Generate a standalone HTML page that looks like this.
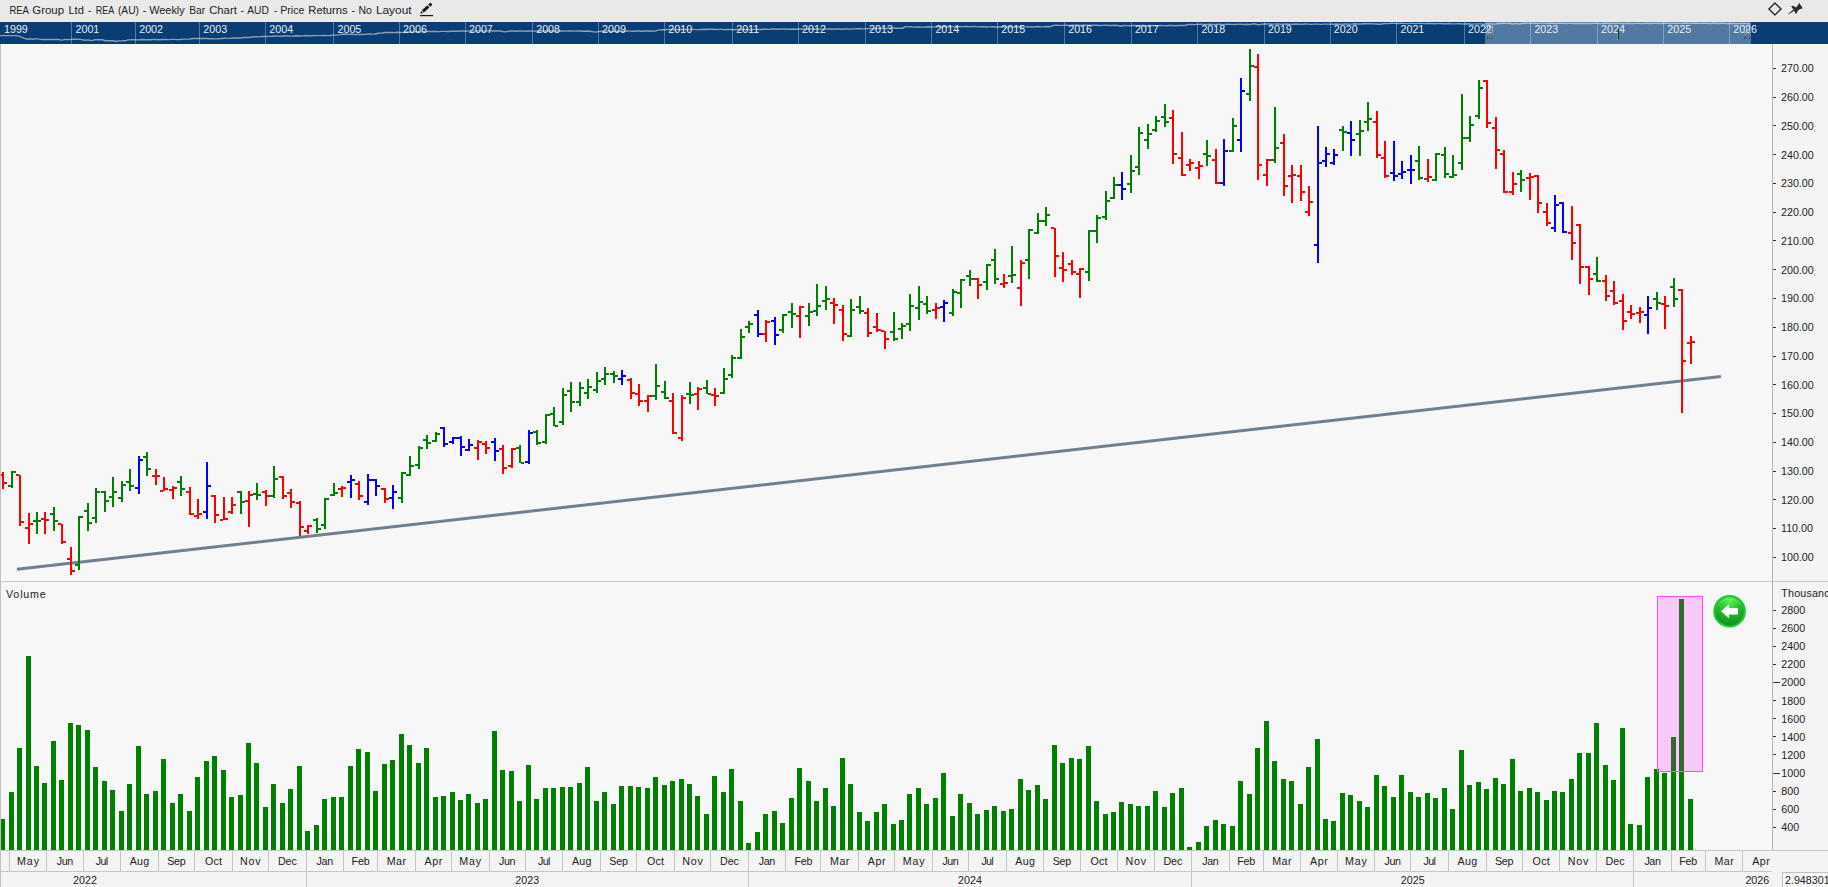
<!DOCTYPE html>
<html><head><meta charset="utf-8"><title>REA Group Ltd - Weekly Bar Chart</title>
<style>html,body{margin:0;padding:0;background:#f7f7f7;overflow:hidden}body{width:1828px;height:887px;position:relative;font-family:"Liberation Sans",sans-serif}</style></head>
<body>
<svg width="1828" height="887" viewBox="0 0 1828 887" style="position:absolute;left:0;top:0;display:block" font-family="'Liberation Sans', sans-serif" font-size="10.7px" fill="#222">
<rect x="0" y="0" width="1828" height="887" fill="#f7f7f7"/>
<rect x="0" y="0" width="1828" height="22" fill="#e9e9e9"/>
<rect x="1773" y="44" width="55" height="843" fill="#f4f4f4"/>
<rect x="0" y="851" width="1828" height="36" fill="#f4f4f4"/>
<rect x="0" y="22" width="1828" height="22" fill="#0a3d73"/>
<rect x="1485" y="22" width="266" height="22" fill="#5279a1"/>
<g shape-rendering="crispEdges" fill="#ffffff" fill-opacity="0.3">
<rect x="71" y="22" width="1" height="22"/>
<rect x="135" y="22" width="1" height="22"/>
<rect x="199" y="22" width="1" height="22"/>
<rect x="265" y="22" width="1" height="22"/>
<rect x="333" y="22" width="1" height="22"/>
<rect x="399" y="22" width="1" height="22"/>
<rect x="465" y="22" width="1" height="22"/>
<rect x="532" y="22" width="1" height="22"/>
<rect x="598" y="22" width="1" height="22"/>
<rect x="664" y="22" width="1" height="22"/>
<rect x="732" y="22" width="1" height="22"/>
<rect x="798" y="22" width="1" height="22"/>
<rect x="865" y="22" width="1" height="22"/>
<rect x="931" y="22" width="1" height="22"/>
<rect x="997" y="22" width="1" height="22"/>
<rect x="1064" y="22" width="1" height="22"/>
<rect x="1131" y="22" width="1" height="22"/>
<rect x="1197" y="22" width="1" height="22"/>
<rect x="1264" y="22" width="1" height="22"/>
<rect x="1330" y="22" width="1" height="22"/>
<rect x="1396" y="22" width="1" height="22"/>
<rect x="1464" y="22" width="1" height="22"/>
<rect x="1530" y="22" width="1" height="22"/>
<rect x="1597" y="22" width="1" height="22"/>
<rect x="1663" y="22" width="1" height="22"/>
<rect x="1729" y="22" width="1" height="22"/>
</g>
<polyline fill="none" stroke="#ffffff" stroke-opacity="0.5" stroke-width="1.4" points="0.0,35.6 3.4,35.6 6.8,35.6 10.2,35.6 13.6,35.6 17.0,35.6 22.0,37.3 27.0,39.3 30.0,38.7 33.0,39.2 36.0,38.6 39.0,39.1 42.0,39.5 45.2,39.5 48.4,39.5 51.6,39.5 54.8,39.5 58.0,39.5 62.0,40.1 65.0,39.4 70.0,39.6 72.0,39.2 76.0,39.3 80.0,39.4 85.0,40.3 88.0,39.9 92.0,40.6 95.0,39.7 99.0,39.75 103.0,39.8 105.0,40.8 108.0,40.8 111.0,40.8 114.0,40.8 116.0,41.4 118.0,40.9 121.5,40.85 125.0,40.8 128.0,39.9 131.5,39.75 135.0,39.6 138.0,39.9 141.0,39.5 146.0,39.8 150.0,39.8 153.0,39.56 156.0,39.47 159.0,39.71 162.0,39.43 165.0,39.39 168.0,39.65 171.0,39.39 174.0,39.4 177.0,39.67 180.0,39.5 183.3,39.13 186.7,39.16 190.0,38.96 193.3,38.52 196.7,38.41 200.0,38.5 203.0,38.44 206.0,38.35 209.0,38.72 212.0,38.64 215.0,38.9 218.1,38.77 221.2,38.55 224.4,38.23 227.5,38.37 230.6,38.29 233.8,37.9 236.9,37.96 240.0,38.0 243.1,37.53 246.2,37.39 249.4,37.45 252.5,37.04 255.6,36.77 258.8,36.87 261.9,36.55 265.0,36.5 268.2,36.37 271.4,36.36 274.5,36.03 277.7,36.11 280.9,36.27 284.1,35.99 287.3,35.88 290.5,36.12 293.6,36.0 296.8,35.74 300.0,36.0 303.0,35.92 306.0,35.56 309.0,35.73 312.0,35.74 315.0,35.42 318.0,35.63 321.0,35.66 324.0,35.36 327.0,35.6 330.0,35.5 333.0,35.09 336.0,35.09 339.0,34.83 342.0,34.29 345.0,34.0 348.0,34.34 351.0,34.15 354.0,34.48 357.0,34.51 360.0,34.4 363.0,34.46 366.0,34.3 369.0,33.94 372.0,34.1 375.0,34.0 378.3,33.26 381.7,32.98 385.0,32.5 388.0,32.46 391.0,32.4 394.0,32.62 397.0,32.32 400.0,32.5 403.0,32.42 406.0,32.03 409.0,31.95 412.0,32.11 415.0,31.74 418.0,31.71 421.0,31.88 424.0,31.54 427.0,31.53 430.0,31.5 433.0,31.41 436.0,31.47 439.0,31.66 442.0,31.34 445.0,31.38 448.0,31.54 451.0,31.18 454.0,31.21 457.0,31.32 460.0,31.0 463.1,31.01 466.2,31.21 469.2,30.91 472.3,30.92 475.4,31.16 478.5,30.9 481.5,30.83 484.6,31.1 487.7,30.9 490.8,30.75 493.8,31.04 496.9,30.9 500.0,31.0 505.0,31.9 510.0,31.0 513.1,30.95 516.2,31.22 519.2,30.99 522.3,30.89 525.4,31.18 528.5,31.01 531.5,30.84 534.6,31.12 537.7,31.03 540.8,30.8 543.8,31.07 546.9,31.05 550.0,30.79 553.1,31.02 556.2,31.08 559.2,30.8 562.3,30.98 565.4,31.12 568.5,30.83 571.5,30.95 574.6,31.16 577.7,30.89 580.8,30.93 583.8,31.2 586.9,30.97 590.0,31.2 593.0,31.71 596.0,32.1 599.0,31.51 602.0,31.2 605.1,31.16 608.2,31.05 611.4,31.33 614.5,31.21 617.6,31.0 620.7,31.25 623.8,31.25 626.9,30.97 630.1,31.16 633.2,31.27 636.3,30.98 639.4,31.06 642.5,31.27 645.6,31.01 648.8,30.96 651.9,31.23 655.0,31.0 658.5,30.16 662.0,29.8 665.2,29.79 668.3,29.54 671.5,29.44 674.7,29.7 677.8,29.59 681.0,29.35 684.2,29.57 687.3,29.64 690.5,29.34 693.7,29.42 696.8,29.64 700.0,29.6 703.0,29.31 706.0,29.57 709.0,29.32 712.0,29.28 715.0,29.57 718.0,29.34 721.0,29.35 724.0,29.65 727.0,29.42 730.0,29.44 733.0,29.73 736.0,29.49 739.0,29.51 742.0,29.76 745.0,29.47 748.0,29.48 751.0,29.69 754.0,29.37 757.0,29.36 760.0,29.54 763.0,29.2 766.0,29.2 769.0,29.37 772.0,29.03 775.0,29.07 778.0,29.25 781.0,28.94 784.0,29.02 787.0,29.22 790.0,29.2 793.0,29.04 796.1,29.25 799.1,28.97 802.2,29.05 805.2,29.29 808.3,29.02 811.3,29.06 814.3,29.32 817.4,29.07 820.4,29.06 823.5,29.33 826.5,29.09 829.6,29.03 832.6,29.3 835.7,29.07 838.7,28.96 841.7,29.23 844.8,29.01 847.8,28.85 850.9,29.11 853.9,28.91 857.0,28.72 860.0,28.8 863.3,28.9 866.7,28.62 870.0,28.66 873.3,28.8 876.7,28.56 880.0,28.3 883.3,28.33 886.6,28.45 889.9,28.17 893.1,28.02 896.4,28.24 899.7,28.25 903.0,28.3 905.0,26.8 908.0,26.88 911.0,26.81 914.1,27.12 917.1,26.94 920.1,26.84 923.1,27.13 926.1,26.94 929.2,26.8 932.2,27.08 935.2,26.87 938.2,26.71 941.2,26.98 944.3,26.77 947.3,26.6 950.3,26.87 953.3,26.67 956.4,26.51 959.4,26.79 962.4,26.63 965.4,26.47 968.4,26.78 971.5,26.64 974.5,26.51 977.5,26.83 980.5,26.72 983.5,26.59 986.6,26.93 989.6,26.84 992.6,26.7 995.6,27.04 998.6,26.94 1001.7,26.78 1004.7,27.1 1007.7,27.0 1010.7,26.81 1013.8,27.11 1016.8,26.99 1019.8,26.77 1022.8,27.04 1025.8,26.91 1028.9,26.68 1031.9,26.94 1034.9,26.81 1037.9,26.57 1040.9,26.83 1044.0,26.72 1047.0,26.48 1050.0,26.8 1053.0,25.5 1056.1,25.15 1059.2,25.42 1062.3,25.42 1065.4,25.16 1068.5,25.37 1071.6,25.47 1074.7,25.18 1077.8,25.32 1080.9,25.51 1084.0,25.24 1087.0,25.28 1090.1,25.53 1093.2,25.31 1096.3,25.25 1099.4,25.54 1102.5,25.39 1105.6,25.24 1108.7,25.54 1111.8,25.47 1114.9,25.25 1118.0,25.5 1121.0,26.3 1124.0,25.5 1127.0,25.63 1130.1,25.68 1133.2,25.42 1136.2,25.68 1139.2,25.76 1142.3,25.48 1145.3,25.69 1148.4,25.81 1151.5,25.52 1154.5,25.68 1157.5,25.82 1160.6,25.52 1163.7,25.63 1166.7,25.8 1169.8,25.49 1172.8,25.55 1175.8,25.74 1178.9,25.44 1182.0,25.45 1185.0,25.5 1188.0,24.5 1191.1,24.34 1194.2,24.6 1197.3,24.38 1200.4,24.27 1203.5,24.56 1206.6,24.42 1209.7,24.22 1212.8,24.49 1215.9,24.46 1219.0,24.2 1222.1,24.42 1225.2,24.49 1228.3,24.2 1231.4,24.34 1234.5,24.51 1237.6,24.22 1240.7,24.27 1243.8,24.51 1246.9,24.26 1250.0,24.5 1254.0,23.7 1258.0,24.7 1262.0,24.2 1265.1,24.04 1268.2,23.95 1271.3,24.25 1274.4,24.11 1277.5,23.94 1280.5,24.23 1283.6,24.19 1286.7,23.95 1289.8,24.21 1292.9,24.26 1296.0,23.98 1299.1,24.18 1302.2,24.32 1305.3,24.03 1308.4,24.14 1311.5,24.36 1314.5,24.09 1317.6,24.11 1320.7,24.38 1323.8,24.16 1326.9,24.08 1330.0,24.1 1333.1,24.2 1336.2,24.01 1339.2,24.27 1342.3,24.15 1345.4,23.9 1348.5,24.14 1351.5,24.09 1354.6,23.79 1357.7,23.99 1360.8,24.01 1363.8,23.68 1366.9,23.81 1370.0,23.6 1373.3,23.88 1376.7,24.03 1380.0,24.2 1385.0,23.5 1388.1,23.61 1391.1,23.31 1394.2,23.42 1397.3,23.61 1400.3,23.32 1403.4,23.38 1406.5,23.61 1409.5,23.35 1412.6,23.35 1415.6,23.63 1418.7,23.41 1421.8,23.36 1424.8,23.66 1427.9,23.49 1431.0,23.39 1434.0,23.71 1437.1,23.6 1440.2,23.45 1443.2,23.77 1446.3,23.73 1449.4,23.53 1452.4,23.84 1455.5,23.86 1458.5,23.63 1461.6,23.91 1464.7,23.99 1467.7,23.74 1470.8,23.98 1473.9,24.12 1476.9,23.85 1480.0,23.9 1483.2,24.18 1486.4,23.91 1489.6,23.84 1492.8,24.1 1496.0,23.9 1498.0,23.3 1501.0,23.53 1504.0,23.18 1507.0,23.33 1510.0,23.3 1513.0,24.0 1516.0,23.4 1519.0,24.0 1522.0,23.4 1525.1,23.26 1528.2,23.39 1531.3,23.1 1534.4,23.21 1537.5,23.42 1540.5,23.15 1543.6,23.17 1546.7,23.44 1549.8,23.22 1552.9,23.15 1556.0,23.45 1559.1,23.31 1562.2,23.15 1565.3,23.46 1568.4,23.4 1571.5,23.18 1574.5,23.45 1577.6,23.49 1580.7,23.23 1583.8,23.44 1586.9,23.57 1590.0,23.5 1593.0,23.33 1596.0,23.2 1600.0,23.6 1604.0,23.3 1607.2,23.24 1610.4,23.56 1613.6,23.53 1616.8,23.33 1620.0,23.4 1623.1,23.68 1626.2,23.37 1629.2,23.49 1632.3,23.66 1635.4,23.36 1638.5,23.4 1641.5,23.62 1644.6,23.34 1647.7,23.3 1650.8,23.56 1653.8,23.34 1656.9,23.22 1660.0,23.5 1663.1,23.33 1666.2,23.15 1669.2,23.43 1672.3,23.33 1675.4,23.1 1678.5,23.35 1681.5,23.34 1684.6,23.07 1687.7,23.29 1690.8,23.36 1693.8,23.07 1696.9,23.23 1700.0,23.4 1703.1,23.1 1706.2,23.22 1709.2,23.45 1712.3,23.2 1715.4,23.25 1718.5,23.53 1721.5,23.31 1724.6,23.29 1727.7,23.6 1730.8,23.44 1733.8,23.35 1736.9,23.67 1740.0,23.6 1743.3,23.42 1746.7,23.65 1750,23.9"/>
<g fill="#e9eef4">
<text x="4" y="33">1999</text>
<text x="75.5" y="33">2001</text>
<text x="139.2" y="33">2002</text>
<text x="203.3" y="33">2003</text>
<text x="269.3" y="33">2004</text>
<text x="337.5" y="33">2005</text>
<text x="403.1" y="33">2006</text>
<text x="469.0" y="33">2007</text>
<text x="536.2" y="33">2008</text>
<text x="602.1" y="33">2009</text>
<text x="668.3" y="33">2010</text>
<text x="736.2" y="33">2011</text>
<text x="802.1" y="33">2012</text>
<text x="869.1" y="33">2013</text>
<text x="935.4" y="33">2014</text>
<text x="1001.3" y="33">2015</text>
<text x="1068.2" y="33">2016</text>
<text x="1134.9" y="33">2017</text>
<text x="1201.4" y="33">2018</text>
<text x="1268.0" y="33">2019</text>
<text x="1333.8" y="33">2020</text>
<text x="1400.5" y="33">2021</text>
<text x="1468.0" y="33">2022</text>
<text x="1534.4" y="33">2023</text>
<text x="1601.1" y="33">2024</text>
<text x="1667.3" y="33">2025</text>
<text x="1733.2" y="33">2026</text>
</g>
<defs><linearGradient id="gr" x1="0" y1="0" x2="0" y2="1"><stop offset="0" stop-color="#dfe8f1" stop-opacity="0.75"/><stop offset="0.45" stop-color="#9fb2c8" stop-opacity="0.8"/><stop offset="1" stop-color="#2a3c52"/></linearGradient></defs>
<g shape-rendering="crispEdges" fill="url(#gr)"><rect x="1487" y="26" width="1" height="13"/><rect x="1489" y="26" width="1" height="13"/><rect x="1492" y="26" width="1" height="13"/><rect x="1744" y="26" width="1" height="13"/><rect x="1746" y="26" width="1" height="13"/><rect x="1749" y="26" width="1" height="13"/></g>
<g shape-rendering="crispEdges"><rect x="1618" y="29" width="1" height="10" fill="#16283f"/><rect x="1617" y="33" width="1" height="7" fill="#ffffff" fill-opacity="0.18"/></g>
<text x="9.4" y="14" textLength="19.5" lengthAdjust="spacingAndGlyphs">REA</text>
<text x="32.25" y="14" textLength="31.8" lengthAdjust="spacingAndGlyphs">Group</text>
<text x="68.4" y="14" textLength="15.5" lengthAdjust="spacingAndGlyphs">Ltd</text>
<text x="88.1" y="14">-</text>
<text x="95.7" y="14" textLength="18.6" lengthAdjust="spacingAndGlyphs">REA</text>
<text x="117.9" y="14" textLength="21.1" lengthAdjust="spacingAndGlyphs">(AU)</text>
<text x="142.8" y="14">-</text>
<text x="149.2" y="14" textLength="35.5" lengthAdjust="spacingAndGlyphs">Weekly</text>
<text x="189.2" y="14" textLength="16.0" lengthAdjust="spacingAndGlyphs">Bar</text>
<text x="209.2" y="14" textLength="27.6" lengthAdjust="spacingAndGlyphs">Chart</text>
<text x="240.6" y="14">-</text>
<text x="247.3" y="14" textLength="21.6" lengthAdjust="spacingAndGlyphs">AUD</text>
<text x="274" y="14">-</text>
<text x="280.3" y="14" textLength="24.1" lengthAdjust="spacingAndGlyphs">Price</text>
<text x="308.3" y="14" textLength="39.4" lengthAdjust="spacingAndGlyphs">Returns</text>
<text x="351.4" y="14">-</text>
<text x="358.5" y="14" textLength="13.5" lengthAdjust="spacingAndGlyphs">No</text>
<text x="375.9" y="14" textLength="35.7" lengthAdjust="spacingAndGlyphs">Layout</text>
<g fill="#1a1a1a"><rect x="420" y="15" width="13" height="1.2"/><path d="M420.2,13.7 L421.2,11 L423,12.9 Z"/><path d="M421.9,10.3 L427.4,5.3 L429.4,7.5 L423.9,12.5 Z"/><path d="M428.3,4.5 L429.9,3.1 Q430.5,2.6 431.1,3.2 L431.9,4.1 Q432.4,4.8 431.8,5.3 L430.3,6.7 Z"/></g>
<path d="M1768.95,9 L1774.95,3 L1780.95,9 L1774.95,15 Z" fill="none" stroke="#2a2a2a" stroke-width="1.5"/>
<g fill="#2a2a2a"><path d="M1791.2,6 L1793,5.8 L1796.2,7.6 L1798.4,4.4 L1799,2.8 L1802.8,8.2 L1801,8.8 L1798,10.2 L1797.2,12.4 L1795.4,14 L1794.6,11 L1792.6,8.6 Z"/><path d="M1787.9,14 L1793.4,9.4 L1794.6,10.8 L1788.3,14.3 Z"/></g>
<g shape-rendering="crispEdges">
<rect x="0" y="581" width="1828" height="1" fill="#c6c6c6"/>
<rect x="0" y="850" width="1828" height="1" fill="#c6c6c6"/>
<rect x="0" y="871" width="1772" height="1" fill="#c6c6c6"/>
<rect x="1772" y="44" width="1" height="806" fill="#b4b4b4"/>
</g>
<line x1="17" y1="569.3" x2="1720.9" y2="376.4" stroke="#708090" stroke-width="3"/>
<g shape-rendering="crispEdges" fill="#008000">
<rect x="11" y="471" width="2" height="17"/><rect x="8" y="485" width="3" height="2"/><rect x="13" y="471" width="3" height="2"/>
<rect x="36" y="512" width="2" height="22"/><rect x="33" y="520" width="3" height="2"/><rect x="38" y="520" width="3" height="2"/>
<rect x="53" y="507" width="2" height="24"/><rect x="50" y="513" width="3" height="2"/><rect x="55" y="520" width="3" height="2"/>
<rect x="78" y="516" width="2" height="54"/><rect x="75" y="564" width="3" height="2"/><rect x="80" y="516" width="3" height="2"/>
<rect x="87" y="503" width="2" height="28"/><rect x="84" y="510" width="3" height="2"/><rect x="89" y="522" width="3" height="2"/>
<rect x="95" y="488" width="2" height="35"/><rect x="92" y="517" width="3" height="2"/><rect x="97" y="491" width="3" height="2"/>
<rect x="104" y="491" width="2" height="21"/><rect x="101" y="491" width="3" height="2"/><rect x="106" y="500" width="3" height="2"/>
<rect x="112" y="477" width="2" height="30"/><rect x="109" y="496" width="3" height="2"/><rect x="114" y="491" width="3" height="2"/>
<rect x="121" y="481" width="2" height="21"/><rect x="118" y="497" width="3" height="2"/><rect x="123" y="484" width="3" height="2"/>
<rect x="129" y="469" width="2" height="22"/><rect x="126" y="481" width="3" height="2"/><rect x="131" y="485" width="3" height="2"/>
<rect x="146" y="452" width="2" height="24"/><rect x="143" y="456" width="3" height="2"/><rect x="148" y="468" width="3" height="2"/>
<rect x="180" y="476" width="2" height="20"/><rect x="177" y="481" width="3" height="2"/><rect x="182" y="488" width="3" height="2"/>
<rect x="240" y="491" width="2" height="23"/><rect x="237" y="491" width="3" height="2"/><rect x="242" y="501" width="3" height="2"/>
<rect x="256" y="483" width="2" height="17"/><rect x="253" y="493" width="3" height="2"/><rect x="258" y="494" width="3" height="2"/>
<rect x="273" y="466" width="2" height="32"/><rect x="270" y="495" width="3" height="2"/><rect x="275" y="478" width="3" height="2"/>
<rect x="316" y="518" width="2" height="15"/><rect x="313" y="519" width="3" height="2"/><rect x="318" y="528" width="3" height="2"/>
<rect x="324" y="498" width="2" height="31"/><rect x="321" y="524" width="3" height="2"/><rect x="326" y="498" width="3" height="2"/>
<rect x="333" y="483" width="2" height="13"/><rect x="330" y="494" width="3" height="2"/><rect x="335" y="492" width="3" height="2"/>
<rect x="401" y="472" width="2" height="31"/><rect x="398" y="497" width="3" height="2"/><rect x="403" y="472" width="3" height="2"/>
<rect x="409" y="456" width="2" height="20"/><rect x="406" y="474" width="3" height="2"/><rect x="411" y="465" width="3" height="2"/>
<rect x="418" y="446" width="2" height="23"/><rect x="415" y="464" width="3" height="2"/><rect x="420" y="447" width="3" height="2"/>
<rect x="426" y="435" width="2" height="14"/><rect x="423" y="439" width="3" height="2"/><rect x="428" y="442" width="3" height="2"/>
<rect x="435" y="432" width="2" height="10"/><rect x="432" y="440" width="3" height="2"/><rect x="437" y="433" width="3" height="2"/>
<rect x="519" y="445" width="2" height="18"/><rect x="516" y="447" width="3" height="2"/><rect x="521" y="462" width="3" height="2"/>
<rect x="536" y="430" width="2" height="15"/><rect x="533" y="431" width="3" height="2"/><rect x="538" y="442" width="3" height="2"/>
<rect x="545" y="414" width="2" height="30"/><rect x="542" y="441" width="3" height="2"/><rect x="547" y="414" width="3" height="2"/>
<rect x="553" y="407" width="2" height="19"/><rect x="550" y="413" width="3" height="2"/><rect x="555" y="425" width="3" height="2"/>
<rect x="562" y="388" width="2" height="37"/><rect x="559" y="421" width="3" height="2"/><rect x="564" y="394" width="3" height="2"/>
<rect x="570" y="382" width="2" height="30"/><rect x="567" y="390" width="3" height="2"/><rect x="572" y="401" width="3" height="2"/>
<rect x="579" y="382" width="2" height="24"/><rect x="576" y="401" width="3" height="2"/><rect x="581" y="387" width="3" height="2"/>
<rect x="587" y="379" width="2" height="20"/><rect x="584" y="392" width="3" height="2"/><rect x="589" y="386" width="3" height="2"/>
<rect x="596" y="372" width="2" height="21"/><rect x="593" y="389" width="3" height="2"/><rect x="598" y="380" width="3" height="2"/>
<rect x="604" y="367" width="2" height="18"/><rect x="601" y="378" width="3" height="2"/><rect x="606" y="373" width="3" height="2"/>
<rect x="613" y="371" width="2" height="12"/><rect x="610" y="373" width="3" height="2"/><rect x="615" y="375" width="3" height="2"/>
<rect x="655" y="364" width="2" height="36"/><rect x="652" y="395" width="3" height="2"/><rect x="657" y="385" width="3" height="2"/>
<rect x="664" y="381" width="2" height="18"/><rect x="661" y="391" width="3" height="2"/><rect x="666" y="397" width="3" height="2"/>
<rect x="689" y="382" width="2" height="22"/><rect x="686" y="393" width="3" height="2"/><rect x="691" y="394" width="3" height="2"/>
<rect x="706" y="380" width="2" height="14"/><rect x="703" y="387" width="3" height="2"/><rect x="708" y="393" width="3" height="2"/>
<rect x="723" y="368" width="2" height="26"/><rect x="720" y="392" width="3" height="2"/><rect x="725" y="378" width="3" height="2"/>
<rect x="731" y="355" width="2" height="23"/><rect x="728" y="374" width="3" height="2"/><rect x="733" y="357" width="3" height="2"/>
<rect x="740" y="329" width="2" height="30"/><rect x="737" y="357" width="3" height="2"/><rect x="742" y="336" width="3" height="2"/>
<rect x="748" y="321" width="2" height="12"/><rect x="745" y="326" width="3" height="2"/><rect x="750" y="323" width="3" height="2"/>
<rect x="782" y="314" width="2" height="19"/><rect x="779" y="329" width="3" height="2"/><rect x="784" y="314" width="3" height="2"/>
<rect x="791" y="303" width="2" height="25"/><rect x="788" y="311" width="3" height="2"/><rect x="793" y="313" width="3" height="2"/>
<rect x="808" y="303" width="2" height="23"/><rect x="805" y="315" width="3" height="2"/><rect x="810" y="311" width="3" height="2"/>
<rect x="816" y="284" width="2" height="32"/><rect x="813" y="310" width="3" height="2"/><rect x="818" y="305" width="3" height="2"/>
<rect x="825" y="286" width="2" height="24"/><rect x="822" y="300" width="3" height="2"/><rect x="827" y="298" width="3" height="2"/>
<rect x="850" y="299" width="2" height="38"/><rect x="847" y="335" width="3" height="2"/><rect x="852" y="309" width="3" height="2"/>
<rect x="859" y="296" width="2" height="18"/><rect x="856" y="306" width="3" height="2"/><rect x="861" y="310" width="3" height="2"/>
<rect x="893" y="312" width="2" height="29"/><rect x="890" y="331" width="3" height="2"/><rect x="895" y="338" width="3" height="2"/>
<rect x="901" y="323" width="2" height="16"/><rect x="898" y="328" width="3" height="2"/><rect x="903" y="325" width="3" height="2"/>
<rect x="909" y="294" width="2" height="37"/><rect x="906" y="323" width="3" height="2"/><rect x="911" y="305" width="3" height="2"/>
<rect x="918" y="286" width="2" height="34"/><rect x="915" y="307" width="3" height="2"/><rect x="920" y="301" width="3" height="2"/>
<rect x="926" y="296" width="2" height="18"/><rect x="923" y="303" width="3" height="2"/><rect x="928" y="310" width="3" height="2"/>
<rect x="952" y="289" width="2" height="27"/><rect x="949" y="312" width="3" height="2"/><rect x="954" y="291" width="3" height="2"/>
<rect x="960" y="279" width="2" height="29"/><rect x="957" y="292" width="3" height="2"/><rect x="962" y="279" width="3" height="2"/>
<rect x="969" y="270" width="2" height="16"/><rect x="966" y="275" width="3" height="2"/><rect x="971" y="278" width="3" height="2"/>
<rect x="986" y="264" width="2" height="26"/><rect x="983" y="281" width="3" height="2"/><rect x="988" y="264" width="3" height="2"/>
<rect x="994" y="249" width="2" height="35"/><rect x="991" y="259" width="3" height="2"/><rect x="996" y="278" width="3" height="2"/>
<rect x="1011" y="246" width="2" height="37"/><rect x="1008" y="275" width="3" height="2"/><rect x="1013" y="274" width="3" height="2"/>
<rect x="1028" y="229" width="2" height="50"/><rect x="1025" y="259" width="3" height="2"/><rect x="1030" y="229" width="3" height="2"/>
<rect x="1037" y="213" width="2" height="21"/><rect x="1034" y="232" width="3" height="2"/><rect x="1039" y="220" width="3" height="2"/>
<rect x="1045" y="207" width="2" height="19"/><rect x="1042" y="220" width="3" height="2"/><rect x="1047" y="214" width="3" height="2"/>
<rect x="1088" y="230" width="2" height="51"/><rect x="1085" y="271" width="3" height="2"/><rect x="1090" y="230" width="3" height="2"/>
<rect x="1096" y="215" width="2" height="28"/><rect x="1093" y="230" width="3" height="2"/><rect x="1098" y="217" width="3" height="2"/>
<rect x="1105" y="191" width="2" height="29"/><rect x="1102" y="216" width="3" height="2"/><rect x="1107" y="200" width="3" height="2"/>
<rect x="1113" y="177" width="2" height="22"/><rect x="1110" y="197" width="3" height="2"/><rect x="1115" y="184" width="3" height="2"/>
<rect x="1130" y="155" width="2" height="38"/><rect x="1127" y="183" width="3" height="2"/><rect x="1132" y="170" width="3" height="2"/>
<rect x="1138" y="127" width="2" height="48"/><rect x="1135" y="166" width="3" height="2"/><rect x="1140" y="132" width="3" height="2"/>
<rect x="1147" y="124" width="2" height="25"/><rect x="1144" y="139" width="3" height="2"/><rect x="1149" y="133" width="3" height="2"/>
<rect x="1155" y="116" width="2" height="16"/><rect x="1152" y="129" width="3" height="2"/><rect x="1157" y="120" width="3" height="2"/>
<rect x="1164" y="104" width="2" height="23"/><rect x="1161" y="116" width="3" height="2"/><rect x="1166" y="121" width="3" height="2"/>
<rect x="1206" y="140" width="2" height="26"/><rect x="1203" y="153" width="3" height="2"/><rect x="1208" y="155" width="3" height="2"/>
<rect x="1232" y="118" width="2" height="34"/><rect x="1229" y="150" width="3" height="2"/><rect x="1234" y="125" width="3" height="2"/>
<rect x="1249" y="49" width="2" height="52"/><rect x="1246" y="93" width="3" height="2"/><rect x="1251" y="65" width="3" height="2"/>
<rect x="1274" y="107" width="2" height="56"/><rect x="1271" y="159" width="3" height="2"/><rect x="1276" y="147" width="3" height="2"/>
<rect x="1342" y="126" width="2" height="25"/><rect x="1339" y="129" width="3" height="2"/><rect x="1344" y="131" width="3" height="2"/>
<rect x="1359" y="120" width="2" height="36"/><rect x="1356" y="133" width="3" height="2"/><rect x="1361" y="130" width="3" height="2"/>
<rect x="1367" y="102" width="2" height="29"/><rect x="1364" y="121" width="3" height="2"/><rect x="1369" y="118" width="3" height="2"/>
<rect x="1418" y="146" width="2" height="34"/><rect x="1415" y="160" width="3" height="2"/><rect x="1420" y="177" width="3" height="2"/>
<rect x="1435" y="153" width="2" height="28"/><rect x="1432" y="179" width="3" height="2"/><rect x="1437" y="153" width="3" height="2"/>
<rect x="1444" y="147" width="2" height="31"/><rect x="1441" y="154" width="3" height="2"/><rect x="1446" y="173" width="3" height="2"/>
<rect x="1452" y="155" width="2" height="23"/><rect x="1449" y="176" width="3" height="2"/><rect x="1454" y="174" width="3" height="2"/>
<rect x="1461" y="94" width="2" height="76"/><rect x="1458" y="162" width="3" height="2"/><rect x="1463" y="137" width="3" height="2"/>
<rect x="1469" y="116" width="2" height="26"/><rect x="1466" y="137" width="3" height="2"/><rect x="1471" y="124" width="3" height="2"/>
<rect x="1478" y="80" width="2" height="39"/><rect x="1475" y="115" width="3" height="2"/><rect x="1480" y="87" width="3" height="2"/>
<rect x="1520" y="170" width="2" height="22"/><rect x="1517" y="173" width="3" height="2"/><rect x="1522" y="179" width="3" height="2"/>
<rect x="1596" y="257" width="2" height="25"/><rect x="1593" y="273" width="3" height="2"/><rect x="1598" y="280" width="3" height="2"/>
<rect x="1656" y="292" width="2" height="18"/><rect x="1653" y="298" width="3" height="2"/><rect x="1658" y="302" width="3" height="2"/>
<rect x="1673" y="278" width="2" height="29"/><rect x="1670" y="286" width="3" height="2"/><rect x="1675" y="298" width="3" height="2"/>
</g>
<g shape-rendering="crispEdges" fill="#ff0000">
<rect x="2" y="472" width="2" height="17"/><rect x="-1" y="474" width="3" height="2"/><rect x="4" y="482" width="3" height="2"/>
<rect x="19" y="475" width="2" height="51"/><rect x="16" y="474" width="3" height="2"/><rect x="21" y="521" width="3" height="2"/>
<rect x="28" y="513" width="2" height="31"/><rect x="25" y="527" width="3" height="2"/><rect x="30" y="523" width="3" height="2"/>
<rect x="44" y="512" width="2" height="22"/><rect x="41" y="518" width="3" height="2"/><rect x="46" y="519" width="3" height="2"/>
<rect x="61" y="524" width="2" height="20"/><rect x="58" y="523" width="3" height="2"/><rect x="63" y="541" width="3" height="2"/>
<rect x="70" y="547" width="2" height="28"/><rect x="67" y="558" width="3" height="2"/><rect x="72" y="570" width="3" height="2"/>
<rect x="155" y="469" width="2" height="16"/><rect x="152" y="475" width="3" height="2"/><rect x="157" y="475" width="3" height="2"/>
<rect x="163" y="477" width="2" height="14"/><rect x="160" y="490" width="3" height="2"/><rect x="165" y="488" width="3" height="2"/>
<rect x="172" y="486" width="2" height="13"/><rect x="169" y="489" width="3" height="2"/><rect x="174" y="487" width="3" height="2"/>
<rect x="189" y="487" width="2" height="28"/><rect x="186" y="491" width="3" height="2"/><rect x="191" y="513" width="3" height="2"/>
<rect x="197" y="499" width="2" height="20"/><rect x="194" y="515" width="3" height="2"/><rect x="199" y="513" width="3" height="2"/>
<rect x="214" y="495" width="2" height="28"/><rect x="211" y="495" width="3" height="2"/><rect x="216" y="514" width="3" height="2"/>
<rect x="223" y="497" width="2" height="23"/><rect x="220" y="519" width="3" height="2"/><rect x="225" y="518" width="3" height="2"/>
<rect x="231" y="497" width="2" height="17"/><rect x="228" y="511" width="3" height="2"/><rect x="233" y="504" width="3" height="2"/>
<rect x="248" y="491" width="2" height="36"/><rect x="245" y="500" width="3" height="2"/><rect x="250" y="494" width="3" height="2"/>
<rect x="265" y="490" width="2" height="16"/><rect x="262" y="491" width="3" height="2"/><rect x="267" y="495" width="3" height="2"/>
<rect x="282" y="476" width="2" height="23"/><rect x="279" y="476" width="3" height="2"/><rect x="284" y="495" width="3" height="2"/>
<rect x="290" y="489" width="2" height="19"/><rect x="287" y="492" width="3" height="2"/><rect x="292" y="501" width="3" height="2"/>
<rect x="299" y="501" width="2" height="35"/><rect x="296" y="502" width="3" height="2"/><rect x="301" y="526" width="3" height="2"/>
<rect x="307" y="525" width="2" height="9"/><rect x="304" y="530" width="3" height="2"/><rect x="309" y="525" width="3" height="2"/>
<rect x="341" y="486" width="2" height="11"/><rect x="338" y="488" width="3" height="2"/><rect x="343" y="487" width="3" height="2"/>
<rect x="358" y="481" width="2" height="19"/><rect x="355" y="483" width="3" height="2"/><rect x="360" y="495" width="3" height="2"/>
<rect x="384" y="488" width="2" height="15"/><rect x="381" y="488" width="3" height="2"/><rect x="386" y="498" width="3" height="2"/>
<rect x="477" y="440" width="2" height="20"/><rect x="474" y="447" width="3" height="2"/><rect x="479" y="441" width="3" height="2"/>
<rect x="485" y="441" width="2" height="13"/><rect x="482" y="443" width="3" height="2"/><rect x="487" y="447" width="3" height="2"/>
<rect x="502" y="445" width="2" height="29"/><rect x="499" y="448" width="3" height="2"/><rect x="504" y="467" width="3" height="2"/>
<rect x="511" y="448" width="2" height="20"/><rect x="508" y="465" width="3" height="2"/><rect x="513" y="448" width="3" height="2"/>
<rect x="630" y="378" width="2" height="21"/><rect x="627" y="379" width="3" height="2"/><rect x="632" y="392" width="3" height="2"/>
<rect x="638" y="384" width="2" height="22"/><rect x="635" y="393" width="3" height="2"/><rect x="640" y="400" width="3" height="2"/>
<rect x="647" y="395" width="2" height="17"/><rect x="644" y="400" width="3" height="2"/><rect x="649" y="395" width="3" height="2"/>
<rect x="672" y="393" width="2" height="41"/><rect x="669" y="400" width="3" height="2"/><rect x="674" y="432" width="3" height="2"/>
<rect x="681" y="395" width="2" height="46"/><rect x="678" y="437" width="3" height="2"/><rect x="683" y="397" width="3" height="2"/>
<rect x="697" y="387" width="2" height="23"/><rect x="694" y="393" width="3" height="2"/><rect x="699" y="388" width="3" height="2"/>
<rect x="714" y="388" width="2" height="18"/><rect x="711" y="394" width="3" height="2"/><rect x="716" y="395" width="3" height="2"/>
<rect x="765" y="320" width="2" height="22"/><rect x="762" y="333" width="3" height="2"/><rect x="767" y="321" width="3" height="2"/>
<rect x="799" y="306" width="2" height="32"/><rect x="796" y="315" width="3" height="2"/><rect x="801" y="306" width="3" height="2"/>
<rect x="833" y="298" width="2" height="26"/><rect x="830" y="302" width="3" height="2"/><rect x="835" y="304" width="3" height="2"/>
<rect x="842" y="305" width="2" height="36"/><rect x="839" y="309" width="3" height="2"/><rect x="844" y="333" width="3" height="2"/>
<rect x="867" y="308" width="2" height="29"/><rect x="864" y="312" width="3" height="2"/><rect x="869" y="332" width="3" height="2"/>
<rect x="876" y="313" width="2" height="19"/><rect x="873" y="326" width="3" height="2"/><rect x="878" y="329" width="3" height="2"/>
<rect x="884" y="331" width="2" height="18"/><rect x="881" y="330" width="3" height="2"/><rect x="886" y="338" width="3" height="2"/>
<rect x="935" y="303" width="2" height="16"/><rect x="932" y="309" width="3" height="2"/><rect x="937" y="307" width="3" height="2"/>
<rect x="977" y="278" width="2" height="21"/><rect x="974" y="278" width="3" height="2"/><rect x="979" y="284" width="3" height="2"/>
<rect x="1003" y="274" width="2" height="14"/><rect x="1000" y="283" width="3" height="2"/><rect x="1005" y="282" width="3" height="2"/>
<rect x="1020" y="260" width="2" height="46"/><rect x="1017" y="287" width="3" height="2"/><rect x="1022" y="262" width="3" height="2"/>
<rect x="1054" y="228" width="2" height="49"/><rect x="1051" y="227" width="3" height="2"/><rect x="1056" y="255" width="3" height="2"/>
<rect x="1062" y="252" width="2" height="30"/><rect x="1059" y="267" width="3" height="2"/><rect x="1064" y="269" width="3" height="2"/>
<rect x="1071" y="260" width="2" height="15"/><rect x="1068" y="263" width="3" height="2"/><rect x="1073" y="271" width="3" height="2"/>
<rect x="1079" y="268" width="2" height="30"/><rect x="1076" y="273" width="3" height="2"/><rect x="1081" y="268" width="3" height="2"/>
<rect x="1172" y="110" width="2" height="54"/><rect x="1169" y="117" width="3" height="2"/><rect x="1174" y="153" width="3" height="2"/>
<rect x="1181" y="132" width="2" height="44"/><rect x="1178" y="157" width="3" height="2"/><rect x="1183" y="174" width="3" height="2"/>
<rect x="1189" y="159" width="2" height="12"/><rect x="1186" y="164" width="3" height="2"/><rect x="1191" y="162" width="3" height="2"/>
<rect x="1198" y="161" width="2" height="18"/><rect x="1195" y="167" width="3" height="2"/><rect x="1200" y="165" width="3" height="2"/>
<rect x="1215" y="149" width="2" height="35"/><rect x="1212" y="159" width="3" height="2"/><rect x="1217" y="182" width="3" height="2"/>
<rect x="1257" y="54" width="2" height="126"/><rect x="1254" y="66" width="3" height="2"/><rect x="1259" y="164" width="3" height="2"/>
<rect x="1266" y="159" width="2" height="27"/><rect x="1263" y="174" width="3" height="2"/><rect x="1268" y="159" width="3" height="2"/>
<rect x="1283" y="134" width="2" height="62"/><rect x="1280" y="142" width="3" height="2"/><rect x="1285" y="185" width="3" height="2"/>
<rect x="1291" y="165" width="2" height="38"/><rect x="1288" y="175" width="3" height="2"/><rect x="1293" y="174" width="3" height="2"/>
<rect x="1300" y="165" width="2" height="36"/><rect x="1297" y="175" width="3" height="2"/><rect x="1302" y="191" width="3" height="2"/>
<rect x="1308" y="186" width="2" height="30"/><rect x="1305" y="211" width="3" height="2"/><rect x="1310" y="201" width="3" height="2"/>
<rect x="1376" y="111" width="2" height="47"/><rect x="1373" y="121" width="3" height="2"/><rect x="1378" y="154" width="3" height="2"/>
<rect x="1384" y="141" width="2" height="37"/><rect x="1381" y="157" width="3" height="2"/><rect x="1386" y="175" width="3" height="2"/>
<rect x="1427" y="159" width="2" height="23"/><rect x="1424" y="178" width="3" height="2"/><rect x="1429" y="176" width="3" height="2"/>
<rect x="1486" y="80" width="2" height="48"/><rect x="1483" y="80" width="3" height="2"/><rect x="1488" y="122" width="3" height="2"/>
<rect x="1495" y="117" width="2" height="52"/><rect x="1492" y="127" width="3" height="2"/><rect x="1497" y="149" width="3" height="2"/>
<rect x="1503" y="150" width="2" height="43"/><rect x="1500" y="153" width="3" height="2"/><rect x="1505" y="191" width="3" height="2"/>
<rect x="1512" y="172" width="2" height="23"/><rect x="1509" y="191" width="3" height="2"/><rect x="1514" y="183" width="3" height="2"/>
<rect x="1529" y="173" width="2" height="27"/><rect x="1526" y="177" width="3" height="2"/><rect x="1531" y="176" width="3" height="2"/>
<rect x="1537" y="175" width="2" height="38"/><rect x="1534" y="175" width="3" height="2"/><rect x="1539" y="202" width="3" height="2"/>
<rect x="1546" y="203" width="2" height="23"/><rect x="1543" y="211" width="3" height="2"/><rect x="1548" y="222" width="3" height="2"/>
<rect x="1571" y="206" width="2" height="54"/><rect x="1568" y="232" width="3" height="2"/><rect x="1573" y="242" width="3" height="2"/>
<rect x="1579" y="224" width="2" height="60"/><rect x="1576" y="224" width="3" height="2"/><rect x="1581" y="266" width="3" height="2"/>
<rect x="1588" y="266" width="2" height="29"/><rect x="1585" y="266" width="3" height="2"/><rect x="1590" y="278" width="3" height="2"/>
<rect x="1605" y="275" width="2" height="26"/><rect x="1602" y="280" width="3" height="2"/><rect x="1607" y="295" width="3" height="2"/>
<rect x="1613" y="281" width="2" height="24"/><rect x="1610" y="290" width="3" height="2"/><rect x="1615" y="302" width="3" height="2"/>
<rect x="1622" y="294" width="2" height="36"/><rect x="1619" y="300" width="3" height="2"/><rect x="1624" y="320" width="3" height="2"/>
<rect x="1630" y="305" width="2" height="14"/><rect x="1627" y="311" width="3" height="2"/><rect x="1632" y="313" width="3" height="2"/>
<rect x="1639" y="307" width="2" height="16"/><rect x="1636" y="312" width="3" height="2"/><rect x="1641" y="311" width="3" height="2"/>
<rect x="1664" y="296" width="2" height="33"/><rect x="1661" y="303" width="3" height="2"/><rect x="1666" y="305" width="3" height="2"/>
<rect x="1681" y="289" width="2" height="124"/><rect x="1678" y="289" width="3" height="2"/><rect x="1683" y="360" width="3" height="2"/>
<rect x="1690" y="336" width="2" height="28"/><rect x="1687" y="342" width="3" height="2"/><rect x="1692" y="341" width="3" height="2"/>
</g>
<g shape-rendering="crispEdges" fill="#0000ff">
<rect x="138" y="456" width="2" height="38"/><rect x="135" y="487" width="3" height="2"/><rect x="140" y="459" width="3" height="2"/>
<rect x="206" y="462" width="2" height="57"/><rect x="203" y="511" width="3" height="2"/><rect x="208" y="485" width="3" height="2"/>
<rect x="350" y="475" width="2" height="23"/><rect x="347" y="481" width="3" height="2"/><rect x="352" y="479" width="3" height="2"/>
<rect x="367" y="474" width="2" height="31"/><rect x="364" y="501" width="3" height="2"/><rect x="369" y="479" width="3" height="2"/>
<rect x="375" y="479" width="2" height="17"/><rect x="372" y="479" width="3" height="2"/><rect x="377" y="485" width="3" height="2"/>
<rect x="392" y="485" width="2" height="24"/><rect x="389" y="497" width="3" height="2"/><rect x="394" y="491" width="3" height="2"/>
<rect x="443" y="427" width="2" height="20"/><rect x="440" y="427" width="3" height="2"/><rect x="445" y="443" width="3" height="2"/>
<rect x="452" y="437" width="2" height="7"/><rect x="449" y="441" width="3" height="2"/><rect x="454" y="437" width="3" height="2"/>
<rect x="460" y="436" width="2" height="20"/><rect x="457" y="437" width="3" height="2"/><rect x="462" y="446" width="3" height="2"/>
<rect x="468" y="439" width="2" height="12"/><rect x="465" y="449" width="3" height="2"/><rect x="470" y="444" width="3" height="2"/>
<rect x="494" y="438" width="2" height="23"/><rect x="491" y="441" width="3" height="2"/><rect x="496" y="450" width="3" height="2"/>
<rect x="528" y="430" width="2" height="34"/><rect x="525" y="461" width="3" height="2"/><rect x="530" y="432" width="3" height="2"/>
<rect x="621" y="370" width="2" height="15"/><rect x="618" y="378" width="3" height="2"/><rect x="623" y="375" width="3" height="2"/>
<rect x="757" y="310" width="2" height="27"/><rect x="754" y="314" width="3" height="2"/><rect x="759" y="333" width="3" height="2"/>
<rect x="774" y="317" width="2" height="28"/><rect x="771" y="320" width="3" height="2"/><rect x="776" y="334" width="3" height="2"/>
<rect x="943" y="300" width="2" height="22"/><rect x="940" y="306" width="3" height="2"/><rect x="945" y="302" width="3" height="2"/>
<rect x="1121" y="172" width="2" height="28"/><rect x="1118" y="184" width="3" height="2"/><rect x="1123" y="188" width="3" height="2"/>
<rect x="1223" y="139" width="2" height="47"/><rect x="1220" y="182" width="3" height="2"/><rect x="1225" y="150" width="3" height="2"/>
<rect x="1240" y="78" width="2" height="74"/><rect x="1237" y="139" width="3" height="2"/><rect x="1242" y="90" width="3" height="2"/>
<rect x="1317" y="126" width="2" height="137"/><rect x="1314" y="244" width="3" height="2"/><rect x="1319" y="162" width="3" height="2"/>
<rect x="1325" y="147" width="2" height="20"/><rect x="1322" y="160" width="3" height="2"/><rect x="1327" y="153" width="3" height="2"/>
<rect x="1333" y="149" width="2" height="16"/><rect x="1330" y="162" width="3" height="2"/><rect x="1335" y="154" width="3" height="2"/>
<rect x="1350" y="121" width="2" height="35"/><rect x="1347" y="132" width="3" height="2"/><rect x="1352" y="139" width="3" height="2"/>
<rect x="1393" y="141" width="2" height="40"/><rect x="1390" y="172" width="3" height="2"/><rect x="1395" y="175" width="3" height="2"/>
<rect x="1401" y="161" width="2" height="18"/><rect x="1398" y="173" width="3" height="2"/><rect x="1403" y="171" width="3" height="2"/>
<rect x="1410" y="155" width="2" height="29"/><rect x="1407" y="169" width="3" height="2"/><rect x="1412" y="169" width="3" height="2"/>
<rect x="1554" y="195" width="2" height="37"/><rect x="1551" y="227" width="3" height="2"/><rect x="1556" y="204" width="3" height="2"/>
<rect x="1562" y="202" width="2" height="31"/><rect x="1559" y="202" width="3" height="2"/><rect x="1564" y="231" width="3" height="2"/>
<rect x="1647" y="296" width="2" height="38"/><rect x="1644" y="314" width="3" height="2"/><rect x="1649" y="307" width="3" height="2"/>
</g>
<g shape-rendering="crispEdges" fill="#008000">
<rect x="0" y="819" width="5" height="31"/>
<rect x="9" y="792" width="5" height="58"/>
<rect x="17" y="748" width="5" height="102"/>
<rect x="26" y="656" width="5" height="194"/>
<rect x="34" y="766" width="5" height="84"/>
<rect x="42" y="783" width="5" height="67"/>
<rect x="51" y="741" width="5" height="109"/>
<rect x="59" y="780" width="5" height="70"/>
<rect x="68" y="723" width="5" height="127"/>
<rect x="76" y="725" width="5" height="125"/>
<rect x="85" y="730" width="5" height="120"/>
<rect x="93" y="767" width="5" height="83"/>
<rect x="102" y="781" width="5" height="69"/>
<rect x="110" y="790" width="5" height="60"/>
<rect x="119" y="811" width="5" height="39"/>
<rect x="127" y="784" width="5" height="66"/>
<rect x="136" y="746" width="5" height="104"/>
<rect x="144" y="794" width="5" height="56"/>
<rect x="153" y="791" width="5" height="59"/>
<rect x="161" y="759" width="5" height="91"/>
<rect x="170" y="803" width="5" height="47"/>
<rect x="178" y="794" width="5" height="56"/>
<rect x="187" y="811" width="5" height="39"/>
<rect x="195" y="777" width="5" height="73"/>
<rect x="204" y="761" width="5" height="89"/>
<rect x="212" y="756" width="5" height="94"/>
<rect x="221" y="770" width="5" height="80"/>
<rect x="229" y="797" width="5" height="53"/>
<rect x="238" y="795" width="5" height="55"/>
<rect x="246" y="743" width="5" height="107"/>
<rect x="254" y="763" width="5" height="87"/>
<rect x="263" y="807" width="5" height="43"/>
<rect x="271" y="784" width="5" height="66"/>
<rect x="280" y="803" width="5" height="47"/>
<rect x="288" y="789" width="5" height="61"/>
<rect x="297" y="766" width="5" height="84"/>
<rect x="305" y="831" width="5" height="19"/>
<rect x="314" y="825" width="5" height="25"/>
<rect x="322" y="799" width="5" height="51"/>
<rect x="331" y="797" width="5" height="53"/>
<rect x="339" y="797" width="5" height="53"/>
<rect x="348" y="766" width="5" height="84"/>
<rect x="356" y="749" width="5" height="101"/>
<rect x="365" y="752" width="5" height="98"/>
<rect x="373" y="791" width="5" height="59"/>
<rect x="382" y="764" width="5" height="86"/>
<rect x="390" y="760" width="5" height="90"/>
<rect x="399" y="734" width="5" height="116"/>
<rect x="407" y="745" width="5" height="105"/>
<rect x="416" y="763" width="5" height="87"/>
<rect x="424" y="748" width="5" height="102"/>
<rect x="433" y="797" width="5" height="53"/>
<rect x="441" y="796" width="5" height="54"/>
<rect x="450" y="792" width="5" height="58"/>
<rect x="458" y="800" width="5" height="50"/>
<rect x="466" y="794" width="5" height="56"/>
<rect x="475" y="803" width="5" height="47"/>
<rect x="483" y="799" width="5" height="51"/>
<rect x="492" y="731" width="5" height="119"/>
<rect x="500" y="770" width="5" height="80"/>
<rect x="509" y="771" width="5" height="79"/>
<rect x="517" y="801" width="5" height="49"/>
<rect x="526" y="765" width="5" height="85"/>
<rect x="534" y="799" width="5" height="51"/>
<rect x="543" y="788" width="5" height="62"/>
<rect x="551" y="788" width="5" height="62"/>
<rect x="560" y="787" width="5" height="63"/>
<rect x="568" y="787" width="5" height="63"/>
<rect x="577" y="783" width="5" height="67"/>
<rect x="585" y="767" width="5" height="83"/>
<rect x="594" y="801" width="5" height="49"/>
<rect x="602" y="792" width="5" height="58"/>
<rect x="611" y="804" width="5" height="46"/>
<rect x="619" y="786" width="5" height="64"/>
<rect x="628" y="786" width="5" height="64"/>
<rect x="636" y="787" width="5" height="63"/>
<rect x="645" y="788" width="5" height="62"/>
<rect x="653" y="777" width="5" height="73"/>
<rect x="662" y="785" width="5" height="65"/>
<rect x="670" y="781" width="5" height="69"/>
<rect x="679" y="779" width="5" height="71"/>
<rect x="687" y="784" width="5" height="66"/>
<rect x="695" y="796" width="5" height="54"/>
<rect x="704" y="814" width="5" height="36"/>
<rect x="712" y="776" width="5" height="74"/>
<rect x="721" y="792" width="5" height="58"/>
<rect x="729" y="769" width="5" height="81"/>
<rect x="738" y="801" width="5" height="49"/>
<rect x="746" y="843" width="5" height="7"/>
<rect x="755" y="832" width="5" height="18"/>
<rect x="763" y="814" width="5" height="36"/>
<rect x="772" y="811" width="5" height="39"/>
<rect x="780" y="823" width="5" height="27"/>
<rect x="789" y="798" width="5" height="52"/>
<rect x="797" y="768" width="5" height="82"/>
<rect x="806" y="781" width="5" height="69"/>
<rect x="814" y="801" width="5" height="49"/>
<rect x="823" y="788" width="5" height="62"/>
<rect x="831" y="806" width="5" height="44"/>
<rect x="840" y="758" width="5" height="92"/>
<rect x="848" y="784" width="5" height="66"/>
<rect x="857" y="812" width="5" height="38"/>
<rect x="865" y="821" width="5" height="29"/>
<rect x="874" y="812" width="5" height="38"/>
<rect x="882" y="804" width="5" height="46"/>
<rect x="891" y="824" width="5" height="26"/>
<rect x="899" y="820" width="5" height="30"/>
<rect x="907" y="794" width="5" height="56"/>
<rect x="916" y="788" width="5" height="62"/>
<rect x="924" y="804" width="5" height="46"/>
<rect x="933" y="798" width="5" height="52"/>
<rect x="941" y="773" width="5" height="77"/>
<rect x="950" y="816" width="5" height="34"/>
<rect x="958" y="794" width="5" height="56"/>
<rect x="967" y="803" width="5" height="47"/>
<rect x="975" y="814" width="5" height="36"/>
<rect x="984" y="810" width="5" height="40"/>
<rect x="992" y="806" width="5" height="44"/>
<rect x="1001" y="811" width="5" height="39"/>
<rect x="1009" y="809" width="5" height="41"/>
<rect x="1018" y="779" width="5" height="71"/>
<rect x="1026" y="790" width="5" height="60"/>
<rect x="1035" y="785" width="5" height="65"/>
<rect x="1043" y="799" width="5" height="51"/>
<rect x="1052" y="745" width="5" height="105"/>
<rect x="1060" y="763" width="5" height="87"/>
<rect x="1069" y="758" width="5" height="92"/>
<rect x="1077" y="759" width="5" height="91"/>
<rect x="1086" y="746" width="5" height="104"/>
<rect x="1094" y="801" width="5" height="49"/>
<rect x="1103" y="814" width="5" height="36"/>
<rect x="1111" y="812" width="5" height="38"/>
<rect x="1119" y="802" width="5" height="48"/>
<rect x="1128" y="804" width="5" height="46"/>
<rect x="1136" y="806" width="5" height="44"/>
<rect x="1145" y="806" width="5" height="44"/>
<rect x="1153" y="791" width="5" height="59"/>
<rect x="1162" y="807" width="5" height="43"/>
<rect x="1170" y="793" width="5" height="57"/>
<rect x="1179" y="788" width="5" height="62"/>
<rect x="1187" y="847" width="5" height="3"/>
<rect x="1196" y="842" width="5" height="8"/>
<rect x="1204" y="826" width="5" height="24"/>
<rect x="1213" y="820" width="5" height="30"/>
<rect x="1221" y="824" width="5" height="26"/>
<rect x="1230" y="826" width="5" height="24"/>
<rect x="1238" y="781" width="5" height="69"/>
<rect x="1247" y="794" width="5" height="56"/>
<rect x="1255" y="748" width="5" height="102"/>
<rect x="1264" y="721" width="5" height="129"/>
<rect x="1272" y="761" width="5" height="89"/>
<rect x="1281" y="779" width="5" height="71"/>
<rect x="1289" y="781" width="5" height="69"/>
<rect x="1298" y="804" width="5" height="46"/>
<rect x="1306" y="767" width="5" height="83"/>
<rect x="1315" y="739" width="5" height="111"/>
<rect x="1323" y="819" width="5" height="31"/>
<rect x="1331" y="821" width="5" height="29"/>
<rect x="1340" y="793" width="5" height="57"/>
<rect x="1348" y="795" width="5" height="55"/>
<rect x="1357" y="801" width="5" height="49"/>
<rect x="1365" y="807" width="5" height="43"/>
<rect x="1374" y="775" width="5" height="75"/>
<rect x="1382" y="786" width="5" height="64"/>
<rect x="1391" y="797" width="5" height="53"/>
<rect x="1399" y="775" width="5" height="75"/>
<rect x="1408" y="792" width="5" height="58"/>
<rect x="1416" y="797" width="5" height="53"/>
<rect x="1425" y="793" width="5" height="57"/>
<rect x="1433" y="798" width="5" height="52"/>
<rect x="1442" y="788" width="5" height="62"/>
<rect x="1450" y="809" width="5" height="41"/>
<rect x="1459" y="750" width="5" height="100"/>
<rect x="1467" y="785" width="5" height="65"/>
<rect x="1476" y="782" width="5" height="68"/>
<rect x="1484" y="789" width="5" height="61"/>
<rect x="1493" y="778" width="5" height="72"/>
<rect x="1501" y="784" width="5" height="66"/>
<rect x="1510" y="759" width="5" height="91"/>
<rect x="1518" y="791" width="5" height="59"/>
<rect x="1527" y="788" width="5" height="62"/>
<rect x="1535" y="792" width="5" height="58"/>
<rect x="1544" y="800" width="5" height="50"/>
<rect x="1552" y="791" width="5" height="59"/>
<rect x="1560" y="792" width="5" height="58"/>
<rect x="1569" y="779" width="5" height="71"/>
<rect x="1577" y="753" width="5" height="97"/>
<rect x="1586" y="753" width="5" height="97"/>
<rect x="1594" y="723" width="5" height="127"/>
<rect x="1603" y="765" width="5" height="85"/>
<rect x="1611" y="780" width="5" height="70"/>
<rect x="1620" y="728" width="5" height="122"/>
<rect x="1628" y="824" width="5" height="26"/>
<rect x="1637" y="825" width="5" height="25"/>
<rect x="1645" y="777" width="5" height="73"/>
<rect x="1654" y="769" width="5" height="81"/>
<rect x="1662" y="773" width="5" height="77"/>
<rect x="1671" y="737" width="5" height="113"/>
<rect x="1679" y="599" width="5" height="251"/>
<rect x="1688" y="799" width="5" height="51"/>
</g>
<rect x="0" y="44" width="1" height="843" fill="#c2c2c2" shape-rendering="crispEdges"/>
<rect x="1657.5" y="596.5" width="45" height="175" fill="#ff00ff" fill-opacity="0.19" stroke="#ff50ff" stroke-width="1"/>
<defs><radialGradient id="gb" cx="0.5" cy="0.15" r="0.9"><stop offset="0" stop-color="#52f552"/><stop offset="0.45" stop-color="#25bd30"/><stop offset="1" stop-color="#128a1c"/></radialGradient></defs>
<circle cx="1729.6" cy="611.2" r="16.3" fill="#1fc930"/>
<circle cx="1729.6" cy="611.2" r="14.3" fill="url(#gb)"/>
<path d="M1718.6,604.5 A13.6,13.6 0 0 1 1740.6,604.5" fill="none" stroke="#ffffff" stroke-opacity="0.35" stroke-width="0.9"/>
<path d="M1721,611.3 L1729,604.4 L1729,608.1 L1738,608.1 L1738,614.5 L1729,614.5 L1729,618.3 Z" fill="#fff"/>
<g shape-rendering="crispEdges" fill="#333">
<rect x="1773" y="557" width="3" height="1"/>
<rect x="1773" y="528" width="3" height="1"/>
<rect x="1773" y="499" width="3" height="1"/>
<rect x="1773" y="471" width="3" height="1"/>
<rect x="1773" y="442" width="3" height="1"/>
<rect x="1773" y="413" width="3" height="1"/>
<rect x="1773" y="384" width="3" height="1"/>
<rect x="1773" y="356" width="3" height="1"/>
<rect x="1773" y="327" width="3" height="1"/>
<rect x="1773" y="298" width="3" height="1"/>
<rect x="1773" y="269" width="3" height="1"/>
<rect x="1773" y="240" width="3" height="1"/>
<rect x="1773" y="212" width="3" height="1"/>
<rect x="1773" y="183" width="3" height="1"/>
<rect x="1773" y="154" width="3" height="1"/>
<rect x="1773" y="125" width="3" height="1"/>
<rect x="1773" y="97" width="3" height="1"/>
<rect x="1773" y="68" width="3" height="1"/>
</g>
<text x="1781" y="561.1">100.00</text>
<text x="1781" y="532.4">110.00</text>
<text x="1781" y="503.6">120.00</text>
<text x="1781" y="474.8">130.00</text>
<text x="1781" y="446.1">140.00</text>
<text x="1781" y="417.3">150.00</text>
<text x="1781" y="388.6">160.00</text>
<text x="1781" y="359.8">170.00</text>
<text x="1781" y="331.0">180.00</text>
<text x="1781" y="302.3">190.00</text>
<text x="1781" y="273.5">200.00</text>
<text x="1781" y="244.8">210.00</text>
<text x="1781" y="216.0">220.00</text>
<text x="1781" y="187.2">230.00</text>
<text x="1781" y="158.5">240.00</text>
<text x="1781" y="129.7">250.00</text>
<text x="1781" y="101.0">260.00</text>
<text x="1781" y="72.2">270.00</text>
<g shape-rendering="crispEdges" fill="#333">
<rect x="1773" y="610" width="3" height="1"/>
<rect x="1773" y="628" width="3" height="1"/>
<rect x="1773" y="646" width="3" height="1"/>
<rect x="1773" y="664" width="3" height="1"/>
<rect x="1773" y="682" width="7" height="1"/>
<rect x="1773" y="700" width="3" height="1"/>
<rect x="1773" y="718" width="3" height="1"/>
<rect x="1773" y="736" width="3" height="1"/>
<rect x="1773" y="754" width="3" height="1"/>
<rect x="1773" y="773" width="7" height="1"/>
<rect x="1773" y="791" width="3" height="1"/>
<rect x="1773" y="809" width="3" height="1"/>
<rect x="1773" y="827" width="3" height="1"/>
</g>
<text x="1781.3" y="614.0">2800</text>
<text x="1781.3" y="632.1">2600</text>
<text x="1781.3" y="650.2">2400</text>
<text x="1781.3" y="668.3">2200</text>
<text x="1781.3" y="686.4">2000</text>
<text x="1781.3" y="704.5">1800</text>
<text x="1781.3" y="722.5">1600</text>
<text x="1781.3" y="740.6">1400</text>
<text x="1781.3" y="758.7">1200</text>
<text x="1781.3" y="776.8">1000</text>
<text x="1781.3" y="794.9">800</text>
<text x="1781.3" y="813.0">600</text>
<text x="1781.3" y="831.1">400</text>
<text x="1781.3" y="596.9" textLength="54.4" lengthAdjust="spacing">Thousands</text>
<text x="6" y="597.8" textLength="39.8" lengthAdjust="spacing">Volume</text>
<g shape-rendering="crispEdges" fill="#c6c6c6">
<rect x="9" y="851" width="1" height="20"/>
<rect x="46" y="851" width="1" height="20"/>
<rect x="83" y="851" width="1" height="20"/>
<rect x="120" y="851" width="1" height="20"/>
<rect x="158" y="851" width="1" height="20"/>
<rect x="194" y="851" width="1" height="20"/>
<rect x="232" y="851" width="1" height="20"/>
<rect x="268" y="851" width="1" height="20"/>
<rect x="306" y="851" width="1" height="36"/>
<rect x="343" y="851" width="1" height="20"/>
<rect x="377" y="851" width="1" height="20"/>
<rect x="415" y="851" width="1" height="20"/>
<rect x="451" y="851" width="1" height="20"/>
<rect x="489" y="851" width="1" height="20"/>
<rect x="525" y="851" width="1" height="20"/>
<rect x="562" y="851" width="1" height="20"/>
<rect x="600" y="851" width="1" height="20"/>
<rect x="636" y="851" width="1" height="20"/>
<rect x="674" y="851" width="1" height="20"/>
<rect x="710" y="851" width="1" height="20"/>
<rect x="748" y="851" width="1" height="36"/>
<rect x="785" y="851" width="1" height="20"/>
<rect x="820" y="851" width="1" height="20"/>
<rect x="858" y="851" width="1" height="20"/>
<rect x="894" y="851" width="1" height="20"/>
<rect x="932" y="851" width="1" height="20"/>
<rect x="968" y="851" width="1" height="20"/>
<rect x="1006" y="851" width="1" height="20"/>
<rect x="1043" y="851" width="1" height="20"/>
<rect x="1080" y="851" width="1" height="20"/>
<rect x="1117" y="851" width="1" height="20"/>
<rect x="1154" y="851" width="1" height="20"/>
<rect x="1191" y="851" width="1" height="36"/>
<rect x="1229" y="851" width="1" height="20"/>
<rect x="1263" y="851" width="1" height="20"/>
<rect x="1300" y="851" width="1" height="20"/>
<rect x="1337" y="851" width="1" height="20"/>
<rect x="1374" y="851" width="1" height="20"/>
<rect x="1410" y="851" width="1" height="20"/>
<rect x="1448" y="851" width="1" height="20"/>
<rect x="1486" y="851" width="1" height="20"/>
<rect x="1522" y="851" width="1" height="20"/>
<rect x="1559" y="851" width="1" height="20"/>
<rect x="1596" y="851" width="1" height="20"/>
<rect x="1633" y="851" width="1" height="36"/>
<rect x="1671" y="851" width="1" height="20"/>
<rect x="1705" y="851" width="1" height="20"/>
<rect x="1742" y="851" width="1" height="20"/>
</g>
<text x="17.1" y="864.7" textLength="21.9" lengthAdjust="spacing">May</text>
<text x="56.8" y="864.7" textLength="16.4" lengthAdjust="spacing">Jun</text>
<text x="95.8" y="864.7" textLength="12.3" lengthAdjust="spacing">Jul</text>
<text x="129.7" y="864.7" textLength="19.6" lengthAdjust="spacing">Aug</text>
<text x="167.2" y="864.7" textLength="18.6" lengthAdjust="spacing">Sep</text>
<text x="204.9" y="864.7" textLength="17.1" lengthAdjust="spacing">Oct</text>
<text x="240.1" y="864.7" textLength="20.6" lengthAdjust="spacing">Nov</text>
<text x="277.9" y="864.7" textLength="18.9" lengthAdjust="spacing">Dec</text>
<text x="316.6" y="864.7" textLength="16.5" lengthAdjust="spacing">Jan</text>
<text x="351.6" y="864.7" textLength="18" lengthAdjust="spacing">Feb</text>
<text x="386.8" y="864.7" textLength="19.2" lengthAdjust="spacing">Mar</text>
<text x="424.5" y="864.7" textLength="17.7" lengthAdjust="spacing">Apr</text>
<text x="459.3" y="864.7" textLength="21.9" lengthAdjust="spacing">May</text>
<text x="499.0" y="864.7" textLength="16.4" lengthAdjust="spacing">Jun</text>
<text x="538.0" y="864.7" textLength="12.3" lengthAdjust="spacing">Jul</text>
<text x="571.9" y="864.7" textLength="19.6" lengthAdjust="spacing">Aug</text>
<text x="609.3" y="864.7" textLength="18.6" lengthAdjust="spacing">Sep</text>
<text x="647.0" y="864.7" textLength="17.1" lengthAdjust="spacing">Oct</text>
<text x="682.2" y="864.7" textLength="20.6" lengthAdjust="spacing">Nov</text>
<text x="720.0" y="864.7" textLength="18.9" lengthAdjust="spacing">Dec</text>
<text x="758.8" y="864.7" textLength="16.5" lengthAdjust="spacing">Jan</text>
<text x="794.4" y="864.7" textLength="18" lengthAdjust="spacing">Feb</text>
<text x="830.1" y="864.7" textLength="19.2" lengthAdjust="spacing">Mar</text>
<text x="867.8" y="864.7" textLength="17.7" lengthAdjust="spacing">Apr</text>
<text x="902.7" y="864.7" textLength="21.9" lengthAdjust="spacing">May</text>
<text x="942.4" y="864.7" textLength="16.4" lengthAdjust="spacing">Jun</text>
<text x="981.4" y="864.7" textLength="12.3" lengthAdjust="spacing">Jul</text>
<text x="1015.3" y="864.7" textLength="19.6" lengthAdjust="spacing">Aug</text>
<text x="1052.7" y="864.7" textLength="18.6" lengthAdjust="spacing">Sep</text>
<text x="1090.4" y="864.7" textLength="17.1" lengthAdjust="spacing">Oct</text>
<text x="1125.6" y="864.7" textLength="20.6" lengthAdjust="spacing">Nov</text>
<text x="1163.4" y="864.7" textLength="18.9" lengthAdjust="spacing">Dec</text>
<text x="1202.2" y="864.7" textLength="16.5" lengthAdjust="spacing">Jan</text>
<text x="1237.2" y="864.7" textLength="18" lengthAdjust="spacing">Feb</text>
<text x="1272.3" y="864.7" textLength="19.2" lengthAdjust="spacing">Mar</text>
<text x="1310.0" y="864.7" textLength="17.7" lengthAdjust="spacing">Apr</text>
<text x="1344.9" y="864.7" textLength="21.9" lengthAdjust="spacing">May</text>
<text x="1384.6" y="864.7" textLength="16.4" lengthAdjust="spacing">Jun</text>
<text x="1423.6" y="864.7" textLength="12.3" lengthAdjust="spacing">Jul</text>
<text x="1457.5" y="864.7" textLength="19.6" lengthAdjust="spacing">Aug</text>
<text x="1494.9" y="864.7" textLength="18.6" lengthAdjust="spacing">Sep</text>
<text x="1532.6" y="864.7" textLength="17.1" lengthAdjust="spacing">Oct</text>
<text x="1567.8" y="864.7" textLength="20.6" lengthAdjust="spacing">Nov</text>
<text x="1605.6" y="864.7" textLength="18.9" lengthAdjust="spacing">Dec</text>
<text x="1644.4" y="864.7" textLength="16.5" lengthAdjust="spacing">Jan</text>
<text x="1679.3" y="864.7" textLength="18" lengthAdjust="spacing">Feb</text>
<text x="1714.5" y="864.7" textLength="19.2" lengthAdjust="spacing">Mar</text>
<text x="1752.2" y="864.7" textLength="17.7" lengthAdjust="spacing">Apr</text>
<text x="73.1" y="883.7">2022</text>
<text x="515.3" y="883.7">2023</text>
<text x="958.1" y="883.7">2024</text>
<text x="1400.8" y="883.7">2025</text>
<text x="1745.4" y="883.7">2026</text>
<rect x="1782.5" y="872.5" width="60" height="20" fill="#f8f8f8" stroke="#c0c0c0" stroke-width="1"/>
<text x="1785" y="884.3">2.948301</text>
</svg>
</body></html>
